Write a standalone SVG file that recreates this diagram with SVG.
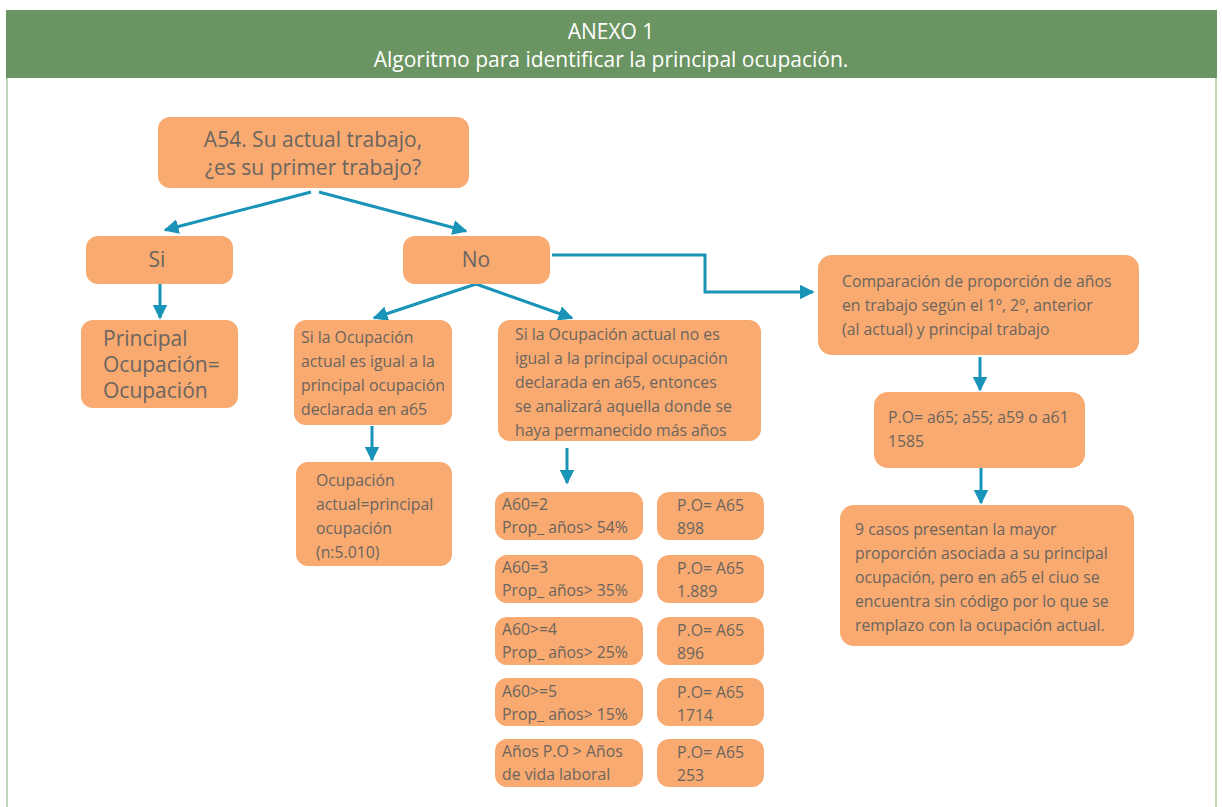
<svg xmlns="http://www.w3.org/2000/svg" width="1222" height="807" viewBox="0 0 1222 807">
<defs>
<style>
.box{fill:#f8aa70;}
.t{font-family:"Open Sans","Noto Sans",sans-serif;fill:#6b6560;}
.s{font-size:15.8px;}
.b{font-size:21px;}
.c{stroke:#1a93b8;stroke-width:3;fill:none;}
.hd{font-family:"Open Sans","Noto Sans",sans-serif;fill:#ffffff;font-size:21px;text-anchor:middle;}
</style>
<marker id="ah" viewBox="0 0 10 10" refX="9" refY="5" markerWidth="5" markerHeight="5" orient="auto" markerUnits="strokeWidth">
<path d="M0,0 L10,5 L0,10 Z" fill="#1a93b8"/>
</marker>
</defs>
<rect x="0" y="0" width="1222" height="807" fill="#ffffff"/>
<g id="frame">
<line x1="7" y1="78" x2="7" y2="807" stroke="#c2d6bb" stroke-width="2"/>
<line x1="1216" y1="78" x2="1216" y2="807" stroke="#c2d6bb" stroke-width="2"/>
<rect x="6" y="10" width="1211" height="68" fill="#6a9462"/>
<text class="hd" x="611" y="39">ANEXO 1</text>
<text class="hd" x="611" y="67">Algoritmo para identificar la principal ocupación.</text>
</g>
<g id="connectors">
<line class="c" x1="311" y1="192" x2="165" y2="230" marker-end="url(#ah)"/>
<line class="c" x1="319" y1="192" x2="466" y2="231" marker-end="url(#ah)"/>
<line class="c" x1="160" y1="284" x2="160" y2="318" marker-end="url(#ah)"/>
<line class="c" x1="476" y1="284" x2="374" y2="318" marker-end="url(#ah)"/>
<line class="c" x1="476" y1="284" x2="572" y2="318" marker-end="url(#ah)"/>
<polyline class="c" points="552,255 705,255 705,292 813,292" marker-end="url(#ah)"/>
<line class="c" x1="372" y1="426" x2="372" y2="460" marker-end="url(#ah)"/>
<line class="c" x1="567" y1="448" x2="567" y2="483" marker-end="url(#ah)"/>
<line class="c" x1="980" y1="357" x2="980" y2="390" marker-end="url(#ah)"/>
<line class="c" x1="981" y1="468" x2="981" y2="503" marker-end="url(#ah)"/>
</g>
<g id="n-a54">
<rect class="box" x="158" y="117" width="311" height="71" rx="12"/>
<text class="t b" x="313" y="147" text-anchor="middle">A54. Su actual trabajo,</text>
<text class="t b" x="313" y="175" text-anchor="middle">¿es su primer trabajo?</text>
</g>
<g id="n-si">
<rect class="box" x="86" y="236" width="147" height="48" rx="12"/>
<text class="t b" x="157" y="267" text-anchor="middle">Si</text>
</g>
<g id="n-no">
<rect class="box" x="403" y="236" width="147" height="48" rx="12"/>
<text class="t b" x="476" y="267" text-anchor="middle">No</text>
</g>
<g id="n-principal">
<rect class="box" x="81" y="320" width="157" height="88" rx="12"/>
<text class="t b" x="103" y="346">Principal</text>
<text class="t b" x="103" y="372">Ocupación=</text>
<text class="t b" x="103" y="398">Ocupación</text>
</g>
<g id="n-igual">
<rect class="box" x="294" y="320" width="158" height="105" rx="12"/>
<text class="t s" x="301" y="343">Si la Ocupación</text>
<text class="t s" x="301" y="367">actual es igual a la</text>
<text class="t s" x="301" y="391">principal ocupación</text>
<text class="t s" x="301" y="415">declarada en a65</text>
</g>
<g id="n-ocupacion-actual">
<rect class="box" x="296" y="462" width="156" height="104" rx="12"/>
<text class="t s" x="316" y="486">Ocupación</text>
<text class="t s" x="316" y="510">actual=principal</text>
<text class="t s" x="316" y="534">ocupación</text>
<text class="t s" x="316" y="558">(n:5.010)</text>
</g>
<g id="n-no-igual">
<rect class="box" x="498" y="320" width="263" height="121" rx="12"/>
<text class="t s" x="515" y="340">Si la Ocupación actual no es</text>
<text class="t s" x="515" y="364">igual a la principal ocupación</text>
<text class="t s" x="515" y="388">declarada en a65, entonces</text>
<text class="t s" x="515" y="412">se analizará aquella donde se</text>
<text class="t s" x="515" y="436">haya permanecido más años</text>
</g>
<g id="n-r1a">
<rect class="box" x="495" y="492" width="148" height="48" rx="12"/>
<text class="t s" x="502" y="510">A60=2</text>
<text class="t s" x="502" y="533">Prop_ años&gt; 54%</text>
</g>
<g id="n-r1b">
<rect class="box" x="657" y="492" width="107" height="48" rx="12"/>
<text class="t s" x="677" y="511">P.O= A65</text>
<text class="t s" x="677" y="534">898</text>
</g>
<g id="n-r2a">
<rect class="box" x="495" y="555" width="148" height="48" rx="12"/>
<text class="t s" x="502" y="573">A60=3</text>
<text class="t s" x="502" y="596">Prop_ años&gt; 35%</text>
</g>
<g id="n-r2b">
<rect class="box" x="657" y="555" width="107" height="48" rx="12"/>
<text class="t s" x="677" y="574">P.O= A65</text>
<text class="t s" x="677" y="597">1.889</text>
</g>
<g id="n-r3a">
<rect class="box" x="495" y="617" width="148" height="48" rx="12"/>
<text class="t s" x="502" y="635">A60&gt;=4</text>
<text class="t s" x="502" y="658">Prop_ años&gt; 25%</text>
</g>
<g id="n-r3b">
<rect class="box" x="657" y="617" width="107" height="48" rx="12"/>
<text class="t s" x="677" y="636">P.O= A65</text>
<text class="t s" x="677" y="659">896</text>
</g>
<g id="n-r4a">
<rect class="box" x="495" y="678" width="148" height="48" rx="12"/>
<text class="t s" x="502" y="697">A60&gt;=5</text>
<text class="t s" x="502" y="720">Prop_ años&gt; 15%</text>
</g>
<g id="n-r4b">
<rect class="box" x="657" y="678" width="107" height="48" rx="12"/>
<text class="t s" x="677" y="698">P.O= A65</text>
<text class="t s" x="677" y="721">1714</text>
</g>
<g id="n-r5a">
<rect class="box" x="495" y="739" width="148" height="48" rx="12"/>
<text class="t s" x="502" y="757">Años P.O &gt; Años</text>
<text class="t s" x="502" y="780">de vida laboral</text>
</g>
<g id="n-r5b">
<rect class="box" x="657" y="739" width="107" height="48" rx="12"/>
<text class="t s" x="677" y="758">P.O= A65</text>
<text class="t s" x="677" y="781">253</text>
</g>
<g id="n-comparacion">
<rect class="box" x="818" y="255" width="321" height="100" rx="14"/>
<text class="t s" x="842" y="287">Comparación de proporción de años</text>
<text class="t s" x="842" y="311">en trabajo según el 1º, 2º, anterior</text>
<text class="t s" x="842" y="335">(al actual) y principal trabajo</text>
</g>
<g id="n-po">
<rect class="box" x="874" y="392" width="211" height="76" rx="14"/>
<text class="t s" x="888" y="423">P.O= a65; a55; a59 o a61</text>
<text class="t s" x="888" y="447">1585</text>
</g>
<g id="n-casos">
<rect class="box" x="840" y="505" width="294" height="141" rx="14"/>
<text class="t s" x="855" y="535">9 casos presentan la mayor</text>
<text class="t s" x="855" y="559">proporción asociada a su principal</text>
<text class="t s" x="855" y="583">ocupación, pero en a65 el ciuo se</text>
<text class="t s" x="855" y="607">encuentra sin código por lo que se</text>
<text class="t s" x="855" y="631">remplazo con la ocupación actual.</text>
</g>
</svg>
